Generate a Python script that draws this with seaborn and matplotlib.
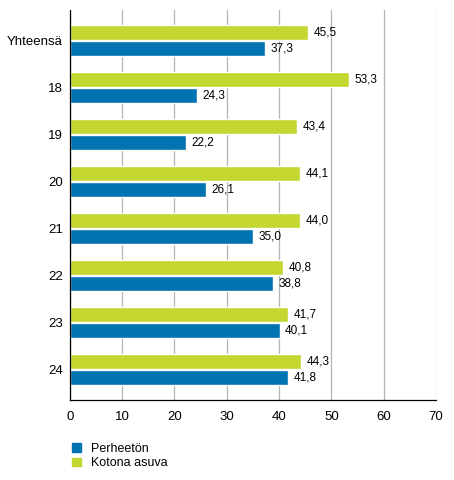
#!/usr/bin/env python3
import matplotlib
matplotlib.use("Agg")
import matplotlib.pyplot as plt
import matplotlib.patches as mpatches
import seaborn as sns
import pandas as pd

# data
categories = ["Yhteensä", "18", "19", "20", "21", "22", "23", "24"]
kotona_asuva = [45.5, 53.3, 43.4, 44.1, 44.0, 40.8, 41.7, 44.3]
perheeton = [37.3, 24.3, 22.2, 26.1, 35.0, 38.8, 40.1, 41.8]
series_names = ["Kotona asuva", "Perheetön"]
colors = {"Kotona asuva": "#c3d730", "Perheetön": "#0073b0"}

df = pd.DataFrame({
    "ryhma": categories * 2,
    "arvo": kotona_asuva + perheeton,
    "sarja": [series_names[0]] * len(categories) + [series_names[1]] * len(categories),
})

sns.set_style("white")
plt.rcParams["font.family"] = ["Liberation Sans", "DejaVu Sans"]
plt.rcParams["text.color"] = "black"
plt.rcParams["xtick.color"] = "black"
plt.rcParams["ytick.color"] = "black"

fig = plt.figure(figsize=(4.54, 4.8), dpi=100)
ax = fig.add_axes([0.154, 0.167, 0.806, 0.812])

sns.barplot(data=df, x="arvo", y="ryhma", hue="sarja", hue_order=series_names,
            order=categories, orient="h", palette=colors, width=0.7, gap=0.08,
            saturation=1, legend=False, ax=ax)

# value labels with decimal comma
for cont in ax.containers:
    vals = [b.get_width() for b in cont]
    ax.bar_label(cont, labels=[f"{v:.1f}".replace(".", ",") for v in vals],
                 padding=4, fontsize=8.5, color="black")

ax.set_xlim(0, 70)
ax.set_ylim(len(categories) - 0.35, -0.65)
ax.set_xticks(range(0, 71, 10))
ax.set_xlabel("")
ax.set_ylabel("")
ax.grid(axis="x", color="#b4b4b4", linewidth=0.9)
ax.set_axisbelow(True)
for side in ["top", "right"]:
    ax.spines[side].set_visible(False)
for side in ["left", "bottom"]:
    ax.spines[side].set_color("black")
    ax.spines[side].set_linewidth(0.9)
ax.tick_params(axis="x", length=5, labelsize=9.5, pad=3, direction="out")
ax.tick_params(axis="y", length=0, labelsize=9.5, pad=5)

# legend: Perheetön first, as in the reference
handles = [mpatches.Patch(color=colors[n], label=n) for n in ["Perheetön", "Kotona asuva"]]
fig.legend(handles=handles, loc="upper left", bbox_to_anchor=(0.148, 0.088),
           frameon=False, fontsize=9, handlelength=0.7, handleheight=0.7,
           handletextpad=0.8, labelspacing=0.2, borderaxespad=0)

fig.savefig("out.png", dpi=100)
